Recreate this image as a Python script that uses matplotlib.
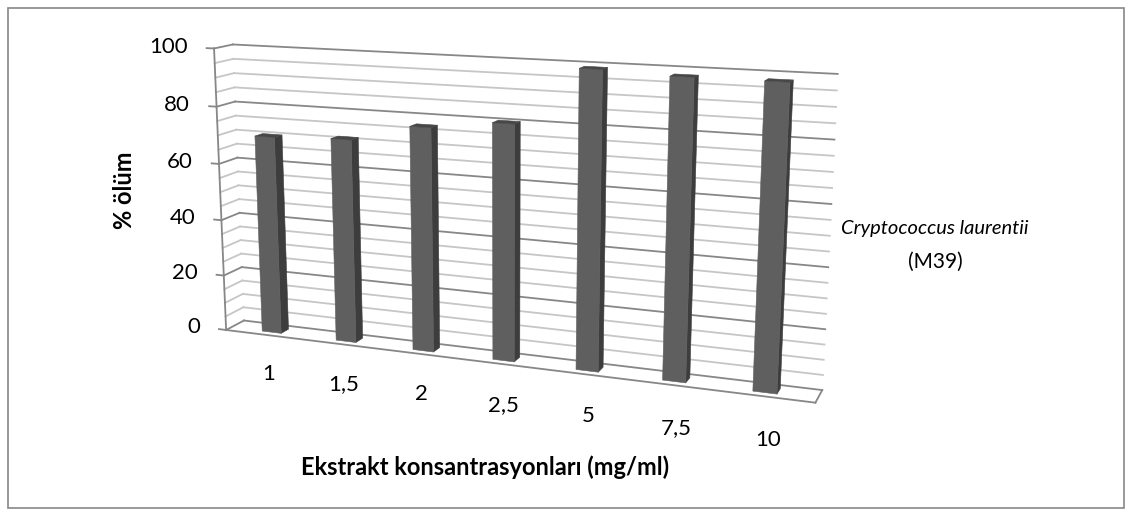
import numpy as np
import matplotlib
matplotlib.use("Agg")
import matplotlib.pyplot as plt
from matplotlib.patches import Rectangle
from mpl_toolkits.mplot3d.art3d import Poly3DCollection

# Data
categories = ["1", "1,5", "2", "2,5", "5", "7,5", "10"]
mortality = [70, 71, 77, 80, 99, 98, 98]
value_ticks = [0, 20, 40, 60, 80, 100]
grid_step = 5

plt.rcParams["font.family"] = ["Lato", "DejaVu Sans"]

W, H = 1133, 515
fig = plt.figure(figsize=(W / 100, H / 100), dpi=100)
fig.patch.set_facecolor("white")

cx, cy, side = 498 / W, 1 - 221 / H, 1.2
ax = fig.add_axes([cx - 0.5, cy - side / 2, 1.0, side], projection="3d",
                  computed_zorder=False)
ax.set_proj_type("persp", focal_length=0.46)
ax.view_init(elev=13, azim=-69, roll=0)

n = len(categories)
x0, x1 = -0.56, n - 0.44
depth = 0.42
zmax = 100
ax.set_xlim(x0, x1)
ax.set_ylim(0, depth)
ax.set_zlim(0, zmax)
ax.set_box_aspect((x1 - x0, depth, 3.42), zoom=1.11)
ax.set_axis_off()

major_c = "#878787"
minor_c = "#c6c6c6"
line_kw = dict(lw=1.3, clip_on=False)

# Back wall and side wall grid
for z in range(0, zmax + 1, grid_step):
    c = major_c if z % 20 == 0 else minor_c
    ax.plot([x0, x1], [depth, depth], [z, z], color=c, zorder=1, **line_kw)
    ax.plot([x0, x0], [0, depth], [z, z], color=c, zorder=1, **line_kw)

# Floor outline
ax.plot([x0, x1], [0, 0], [0, 0], color=major_c, zorder=2, **line_kw)
ax.plot([x1, x1], [0, depth], [0, 0], color=major_c, zorder=2, **line_kw)

# Value axis with ticks and labels
ax.plot([x0, x0], [0, 0], [0, zmax], color=major_c, zorder=3, **line_kw)
for v in value_ticks:
    ax.plot([x0 - 0.1, x0], [0, 0], [v, v], color=major_c, zorder=3, **line_kw)
    ax.text(x0 - 0.36, 0, v, str(v), ha="right", va="center", fontsize=16, zorder=5)

# Columns: visible faces (front, right side, top) of each bar
bw = 0.26
bd = 0.18
yc = depth * 0.5
polys, colors = [], []
for i, v in enumerate(mortality):
    xa, xb = i - bw / 2, i + bw / 2
    ya, yb = yc - bd / 2, yc + bd / 2
    polys.append([(xa, ya, 0), (xb, ya, 0), (xb, ya, v), (xa, ya, v)])
    colors.append("#5f5f5f")
    polys.append([(xb, ya, 0), (xb, yb, 0), (xb, yb, v), (xb, ya, v)])
    colors.append("#3d3d3d")
    polys.append([(xa, ya, v), (xb, ya, v), (xb, yb, v), (xa, yb, v)])
    colors.append("#474747")
bars = Poly3DCollection(polys, facecolors=colors, edgecolors=colors, linewidths=0.4,
                        zorder=4)
bars.set_clip_on(False)
ax.add_collection3d(bars)

# Category labels
for i, lab in enumerate(categories):
    ax.text(i + 0.12, -0.2, -12, lab, ha="center", va="center", fontsize=16, zorder=5)

# Axis titles and series label
fig.text(125 / W, 1 - 190 / H, "% ölüm", rotation=90, ha="center", va="center",
         fontsize=17, fontweight="bold")
fig.text(485 / W, 1 - 467 / H, "Ekstrakt konsantrasyonları (mg/ml)", ha="center",
         va="center", fontsize=17, fontweight="bold")
fig.text(935 / W, 1 - 228 / H, "Cryptococcus laurentii", ha="center", va="center",
         fontsize=14.5, style="italic")
fig.text(935 / W, 1 - 262 / H, "(M39)", ha="center", va="center", fontsize=15)

# Chart border
fig.patches.append(Rectangle((8 / W, 7 / H), 1116 / W, 500 / H, transform=fig.transFigure,
                             fill=False, edgecolor="#888888", lw=1.2))

fig.savefig("out.png", dpi=100)
